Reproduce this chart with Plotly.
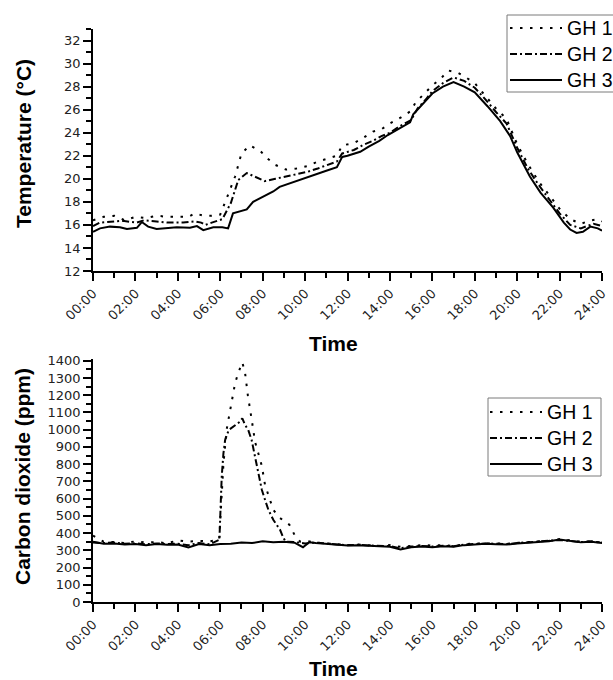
import plotly.graph_objects as go

# ---------------- Temperature data (hours, °C) ----------------
temp_gh1_h = [0, 0.5, 1, 1.5, 2, 2.5, 3, 3.5, 4, 4.5, 4.8, 5.2, 5.6, 6.0, 6.3, 6.7, 7.0, 7.4, 7.9,
              8.2, 8.6, 9.1, 9.6, 10.1, 10.6, 11.1, 11.5, 11.75, 12.3, 12.7, 13.2, 13.6, 14.0,
              14.5, 15.0, 15.2, 15.7, 16.0, 16.4, 16.75, 17.2, 17.5, 18.0, 18.5, 19.0, 19.5,
              20.0, 20.5, 21.0, 21.5, 22.0, 22.5, 23.0, 23.5, 23.8, 24]
temp_gh1 = [16.4, 16.7, 16.8, 16.4, 16.7, 16.6, 16.8, 16.7, 16.7, 16.7, 17.0, 16.8, 16.8, 16.9,
            18.3, 20.2, 22.2, 22.9, 22.4, 21.8, 21.2, 20.8, 20.9, 21.1, 21.5, 21.8, 22.0, 22.9,
            23.1, 23.5, 24.1, 24.3, 24.8, 25.3, 25.9, 26.6, 27.5, 28.1, 28.7, 29.4, 29.2, 28.9,
            28.3, 27.2, 26.1, 25.2, 23.0, 21.3, 19.8, 18.6, 17.4, 16.5, 16.1, 16.4, 16.5, 16.3]

temp_gh2_h = [0, 0.33, 1.0, 1.4, 2.07, 2.4, 3.0, 3.5, 4.25, 4.8, 5.1, 5.3, 5.6, 6.1, 6.5, 6.85,
              7.25, 7.7, 8.1, 8.6, 9.1, 9.6, 10.1, 10.6, 11.1, 11.5, 11.75, 12.3, 12.7, 13.2,
              13.6, 14.0, 14.5, 15.0, 15.3, 15.7, 16.0, 16.5, 17.0, 17.5, 18.0, 18.5, 19.0,
              19.5, 20.0, 20.5, 21.0, 21.5, 22.0, 22.5, 23.0, 23.3, 23.6, 24]
temp_gh2 = [15.9, 16.2, 16.3, 16.35, 16.2, 16.4, 16.3, 16.2, 16.2, 16.3, 16.2, 16.0, 16.2, 16.5,
            17.9, 19.9, 20.5, 20.1, 19.8, 20.0, 20.2, 20.35, 20.6, 20.9, 21.2, 21.5, 22.2, 22.5,
            22.9, 23.3, 23.7, 24.0, 24.6, 25.1, 26.1, 26.9, 27.6, 28.3, 28.8, 28.5, 27.9, 26.9,
            25.8, 24.8, 22.7, 20.9, 19.5, 18.2, 17.0, 16.0, 15.7, 15.9, 16.1, 15.9]

temp_gh3_h = [0, 0.33, 0.8, 1.27, 1.6, 2.07, 2.3, 2.6, 3.0, 3.5, 3.95, 4.57, 4.9, 5.2, 5.67,
              6.1, 6.37, 6.6, 7.0, 7.25, 7.55, 8.0, 8.5, 8.8, 9.1, 9.5, 10.1, 10.5, 11.0, 11.5,
              11.75, 12.0, 12.6, 13.0, 13.5, 13.9, 14.5, 14.95, 15.1, 15.6, 16.0, 16.5, 17.0,
              17.5, 18.0, 18.6, 19.2, 19.67, 20.0, 20.6, 21.1, 21.7, 22.2, 22.5, 22.8, 23.1,
              23.45, 23.8, 24]
temp_gh3 = [15.4, 15.7, 15.85, 15.8, 15.65, 15.75, 16.25, 15.85, 15.65, 15.7, 15.8, 15.75, 15.9,
            15.55, 15.8, 15.8, 15.7, 17.0, 17.2, 17.35, 18.0, 18.45, 18.9, 19.3, 19.5, 19.7,
            20.1, 20.4, 20.7, 21.0, 21.9, 22.0, 22.35, 22.8, 23.3, 23.8, 24.4, 24.9, 25.6,
            26.6, 27.4, 28.0, 28.4, 28.0, 27.5, 26.3, 25.0, 23.7, 22.3, 20.2, 18.8, 17.5, 16.2,
            15.6, 15.3, 15.4, 15.85, 15.7, 15.5]

# ---------------- CO2 data (hours, ppm) ----------------
co2_gh1_h = [0, 0.5, 1, 1.5, 2, 2.5, 3, 3.5, 4, 4.5, 5, 5.5, 5.95, 6.05, 6.15, 6.3, 6.5, 6.7,
             6.85, 7.04, 7.17, 7.3, 7.48, 7.64, 7.8, 7.96, 8.11, 8.32, 8.5, 8.82, 9.26, 9.5,
             9.76, 10.0, 10.5, 11, 11.5, 12, 12.5, 13, 13.5, 14, 14.5, 15, 15.5, 16, 16.5, 17,
             17.5, 18, 18.5, 19, 19.5, 20, 20.5, 21, 21.5, 22, 22.5, 23, 23.5, 24]
co2_gh1 = [385, 350, 348, 342, 352, 345, 348, 340, 358, 350, 355, 352, 362, 560, 800, 1000,
           1130, 1270, 1330, 1390, 1330, 1200, 1060, 930, 860, 790, 680, 600, 535, 487, 448,
           390, 350, 355, 345, 340, 335, 330, 334, 328, 325, 330, 320, 326, 330, 328, 330,
           325, 335, 340, 342, 340, 338, 345, 348, 352, 355, 365, 356, 350, 352, 345]

co2_gh2_h = [0, 0.5, 1, 1.5, 2, 2.5, 3, 3.5, 4, 4.5, 5, 5.5, 5.96, 6.0, 6.07, 6.15, 6.23, 6.4,
             6.7, 6.93, 7.04, 7.17, 7.32, 7.48, 7.64, 7.8, 7.96, 8.11, 8.27, 8.5, 8.82, 8.98,
             9.1, 9.5, 10, 10.5, 11, 11.5, 12, 12.5, 13, 13.5, 14, 14.5, 15, 15.5, 16, 16.5,
             17, 17.5, 18, 18.5, 19, 19.5, 20, 20.5, 21, 21.5, 22, 22.5, 23, 23.5, 24]
co2_gh2 = [345, 342, 345, 338, 340, 335, 340, 336, 338, 330, 342, 335, 361, 515, 728, 863, 940,
           998, 1027, 1046, 1066, 1027, 998, 940, 843, 747, 651, 593, 535, 477, 419, 371, 350,
           348, 340, 345, 338, 334, 330, 332, 328, 325, 324, 312, 322, 325, 322, 326, 324, 333,
           338, 340, 338, 336, 342, 346, 350, 354, 360, 354, 348, 352, 344]

co2_gh3_h = [0, 0.5, 1, 1.5, 2, 2.5, 3, 3.5, 4, 4.5, 5, 5.5, 6, 6.5, 7, 7.5, 8, 8.5, 9, 9.5,
             9.9, 10.2, 10.5, 11, 11.5, 12, 12.5, 13, 13.5, 14, 14.5, 15, 15.5, 16, 16.5, 17,
             17.5, 18, 18.5, 19, 19.5, 20, 20.5, 21, 21.5, 22, 22.5, 23, 23.5, 24]
co2_gh3 = [350, 338, 340, 333, 336, 330, 336, 332, 334, 316, 336, 330, 336, 338, 345, 342, 352,
           346, 350, 344, 318, 347, 342, 336, 332, 328, 330, 326, 322, 321, 305, 318, 322, 318,
           324, 320, 330, 336, 338, 335, 333, 340, 344, 348, 352, 362, 352, 346, 350, 342]

series_names = ["GH 1", "GH 2", "GH 3"]
time_tickvals = list(range(0, 25, 2))
time_ticktext = ["%02d:00" % h for h in time_tickvals]

# ---------------- styling ----------------
FONT = "Arial, Liberation Sans, sans-serif"
TICKFONT = "DejaVu Sans, Arial, sans-serif"
dashes = ["2.5px,7.5px", "7px,3px,2px,3px", "solid"]
W = 613
H = 680

fig = go.Figure()

temp_sets = [(temp_gh1_h, temp_gh1), (temp_gh2_h, temp_gh2), (temp_gh3_h, temp_gh3)]
co2_sets = [(co2_gh1_h, co2_gh1), (co2_gh2_h, co2_gh2), (co2_gh3_h, co2_gh3)]


def legend_label(name):
    return '<span style="font-size:19.5px">%s</span>' % name


for name, dash, (xs, ys) in zip(series_names, dashes, temp_sets):
    fig.add_trace(go.Scatter(x=xs, y=ys, name=legend_label(name), mode="lines",
                             line=dict(color="black", width=2, dash=dash),
                             xaxis="x", yaxis="y", legend="legend"))
for name, dash, (xs, ys) in zip(series_names, dashes, co2_sets):
    fig.add_trace(go.Scatter(x=xs, y=ys, name=legend_label(name), mode="lines",
                             line=dict(color="black", width=2, dash=dash),
                             xaxis="x2", yaxis="y2", legend="legend2"))

xdom = [93 / W, 602 / W]


def px_dom(top, bottom):
    return [(H - bottom) / H, (H - top) / H]


def px_x(p):
    return p / W


def px_y(p):
    return (H - p) / H


common_x = dict(range=[0, 24], tickvals=time_tickvals, ticktext=time_ticktext, tickangle=-45,
                ticks="outside", ticklen=8, tickwidth=1.5, tickcolor="black",
                showline=True, linecolor="black", linewidth=1.5, showgrid=False,
                zeroline=False, automargin=False, domain=xdom,
                tickfont=dict(family=TICKFONT, size=13, color="#222"),
                minor=dict(ticks="outside", ticklen=5, tickwidth=1.5, tickcolor="black",
                           dtick=1, showgrid=False))
common_y = dict(ticks="outside", ticklen=8, tickwidth=1.5, tickcolor="black",
                showline=True, linecolor="black", linewidth=1.5, showgrid=False,
                zeroline=False, automargin=False,
                tickfont=dict(family=TICKFONT, size=13, color="#222"))

legend_common = dict(xanchor="left", yanchor="top", borderwidth=0,
                     bgcolor="rgba(0,0,0,0)", font=dict(family=FONT, size=17.7, color="black"),
                     itemwidth=52, tracegroupgap=0)

title_font = dict(family=FONT, size=21, color="black", weight="bold")

legend_box = dict(type="rect", xref="paper", yref="paper", layer="above",
                  line=dict(color="#7a7a7a", width=1), fillcolor="white")

fig.update_layout(
    width=W, height=H,
    margin=dict(l=0, r=0, t=0, b=0, autoexpand=False),
    paper_bgcolor="white", plot_bgcolor="white",
    xaxis=dict(common_x, anchor="y"),
    yaxis=dict(common_y, anchor="x", domain=px_dom(29, 271), range=[12, 33],
               tickvals=list(range(12, 33, 2)),
               minor=dict(ticks="outside", ticklen=5, tickwidth=1.5, tickcolor="black",
                          dtick=1, showgrid=False)),
    xaxis2=dict(common_x, anchor="y2"),
    yaxis2=dict(common_y, anchor="x2", domain=px_dom(359, 602), range=[0, 1410],
                tickvals=list(range(0, 1401, 100)),
                minor=dict(ticks="outside", ticklen=5, tickwidth=1.5, tickcolor="black",
                           dtick=50, showgrid=False)),
    legend=dict(legend_common, x=px_x(505), y=px_y(10)),
    legend2=dict(legend_common, x=px_x(485), y=px_y(394)),
    showlegend=True,
    shapes=[
        dict(legend_box, x0=px_x(507), x1=px_x(640), y0=px_y(92), y1=px_y(15)),
        dict(legend_box, x0=px_x(488), x1=px_x(601), y0=px_y(476), y1=px_y(398)),
    ],
    annotations=[
        dict(text="Temperature (°C)", x=px_x(23), y=px_y(144), xref="paper", yref="paper",
             xanchor="center", yanchor="middle",
             textangle=-90, showarrow=False, font=title_font),
        dict(text="Carbon dioxide (ppm)", x=px_x(23), y=px_y(477), xref="paper",
             yref="paper", xanchor="center", yanchor="middle",
             textangle=-90, showarrow=False, font=title_font),
        dict(text="Time", x=px_x(333), y=px_y(343), xref="paper", yref="paper",
             xanchor="center", yanchor="middle", showarrow=False, font=title_font),
        dict(text="Time", x=px_x(333), y=px_y(668), xref="paper", yref="paper",
             xanchor="center", yanchor="middle", showarrow=False, font=title_font),
    ],
)

fig.write_html("out.html",
               config={"displayModeBar": False},
               post_script="document.body.style.margin='0px';"
                           "document.body.style.overflow='hidden';")
